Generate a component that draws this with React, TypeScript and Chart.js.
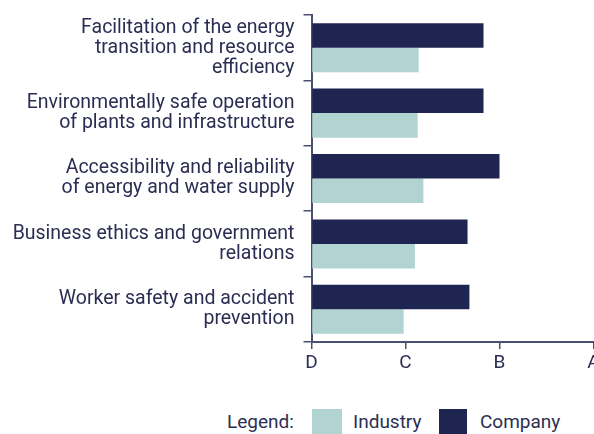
import React, { useEffect, useRef } from "react";
import { Chart, registerables } from "chart.js";

Chart.register(...registerables);

const categories: string[][] = [
  ["Facilitation of the energy", "transition and resource", "efficiency"],
  ["Environmentally safe operation", "of plants and infrastructure"],
  ["Accessibility and reliability", "of energy and water supply"],
  ["Business ethics and government", "relations"],
  ["Worker safety and accident", "prevention"],
];
const companyValues = [1.83, 1.83, 2.0, 1.66, 1.68];
const industryValues = [1.14, 1.13, 1.19, 1.1, 0.98];
const gradeLabels = ["D", "C", "B", "A"];

const NAVY = "#1f2551";
const TEAL = "#b1d3d1";
const TEXT = "#2b2e52";
const AXIS = "#4b5073";
const FONT = "Roboto";

export default function App() {
  const ref = useRef<HTMLCanvasElement | null>(null);

  useEffect(() => {
    if (!ref.current) return;
    const chart = new Chart(ref.current, {
      type: "bar",
      data: {
        labels: categories,
        datasets: [
          {
            label: "Company",
            data: companyValues,
            backgroundColor: NAVY,
            barPercentage: 1,
            categoryPercentage: 0.75,
          },
          {
            label: "Industry",
            data: industryValues,
            backgroundColor: TEAL,
            barPercentage: 1,
            categoryPercentage: 0.75,
          },
        ],
      },
      options: {
        indexAxis: "y",
        responsive: false,
        animation: false,
        layout: { padding: { top: 15, right: 26.5, left: 0, bottom: 0 } },
        plugins: { legend: { display: false }, tooltip: { enabled: false } },
        scales: {
          x: {
            type: "linear",
            min: 0,
            max: 3,
            afterFit: (s: any) => {
              s.height = 30;
              s.paddingRight = 0;
            },
            border: { display: true, color: AXIS, width: 2 },
            grid: {
              drawOnChartArea: false,
              drawTicks: true,
              tickLength: 7,
              color: AXIS,
              lineWidth: 1.5,
            },
            ticks: {
              stepSize: 1,
              padding: 3,
              color: TEXT,
              font: { family: FONT, size: 19 },
              callback: (v: any) => gradeLabels[Number(v)] ?? "",
            },
          },
          y: {
            type: "category",
            afterFit: (s: any) => {
              s.width = 311.5;
              s.paddingTop = 0;
              s.paddingBottom = 0;
            },
            border: { display: true, color: AXIS, width: 2 },
            grid: {
              offset: true,
              drawOnChartArea: false,
              drawTicks: true,
              tickLength: 8,
              color: AXIS,
              lineWidth: 1.5,
            },
            ticks: {
              padding: 9,
              color: TEXT,
              font: { family: FONT, size: 19.5, lineHeight: 20 / 19.5 },
            },
          },
        },
      },
    });
    return () => chart.destroy();
  }, []);

  const textStyle: React.CSSProperties = {
    position: "absolute",
    fontFamily: FONT,
    fontSize: 19,
    lineHeight: "20px",
    color: TEXT,
    whiteSpace: "nowrap",
  };

  return (
    <div
      style={{
        position: "absolute",
        left: 0,
        top: 0,
        width: 594,
        height: 434,
        overflow: "hidden",
        background: "#fff",
      }}
    >
      <canvas
        ref={ref}
        width={620}
        height={372}
        style={{ position: "absolute", left: 0, top: 0, width: 620, height: 372 }}
      />
      <div style={{ ...textStyle, left: 227, top: 412 }}>Legend:</div>
      <div
        style={{ position: "absolute", left: 312, top: 409, width: 30, height: 30, background: TEAL }}
      />
      <div style={{ ...textStyle, left: 353, top: 412 }}>Industry</div>
      <div
        style={{ position: "absolute", left: 439, top: 409, width: 28, height: 30, background: NAVY }}
      />
      <div style={{ ...textStyle, left: 480, top: 412 }}>Company</div>
    </div>
  );
}
